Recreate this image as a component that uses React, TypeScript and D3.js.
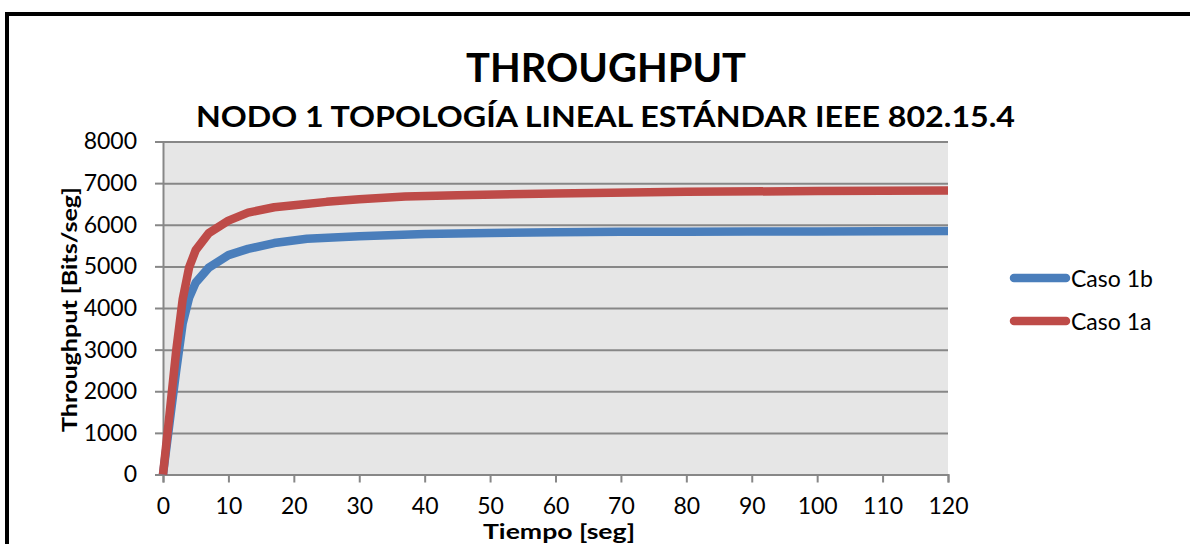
import React, { useRef, useEffect, useCallback } from 'react';
import * as d3 from 'd3';

const width = 1190;
const height = 544;
const margin = { top: 141.5, right: 242, bottom: 69.5, left: 163 };

// tiempo [seg]
const tiempoB = [0, 1, 2, 3, 4, 5, 7, 10, 13, 17, 22, 30, 40, 50, 60, 70, 80, 90, 100, 110, 120];
const caso1b = [0, 1240, 2470, 3620, 4250, 4610, 4970, 5270, 5420, 5560, 5665, 5725, 5780, 5800, 5820, 5830, 5830, 5835, 5840, 5845, 5850];

const tiempoA = [0, 1, 2, 3, 4, 5, 7, 10, 13, 17, 20, 25, 30, 37, 45, 60, 80, 100, 120];
const caso1a = [0, 1450, 2950, 4200, 4980, 5390, 5800, 6100, 6290, 6420, 6470, 6550, 6610, 6680, 6710, 6750, 6790, 6810, 6820];

const xTicks = [0, 10, 20, 30, 40, 50, 60, 70, 80, 90, 100, 110, 120];
const yTicks = [0, 1000, 2000, 3000, 4000, 5000, 6000, 7000, 8000];

const series = [
  { name: 'Caso 1b', color: '#4a7ebb', x: tiempoB, y: caso1b },
  { name: 'Caso 1a', color: '#be4b48', x: tiempoA, y: caso1a },
];

const font = 'Lato, "Open Sans", sans-serif';
const gridColor = '#878787';

const App: React.FC = () => {
  const chartRef = useRef(null);

  const draw = useCallback(() => {
    const x = d3.scaleLinear().domain([0, 120]).range([margin.left, width - margin.right]);
    const y = d3.scaleLinear().domain([0, 8000]).range([height - margin.bottom, margin.top]);

    d3.select(chartRef.current).selectAll('svg').remove();
    const svg = d3
      .select(chartRef.current)
      .append('svg')
      .attr('width', width)
      .attr('height', height)
      .attr('viewBox', `0 0 ${width} ${height}`)
      .style('display', 'block')
      .style('font-family', font);

    svg.append('rect').attr('width', width).attr('height', height).attr('fill', '#fff');

    /** outer frame */
    svg
      .append('rect')
      .attr('x', 7)
      .attr('y', 14)
      .attr('width', 1300)
      .attr('height', 700)
      .attr('fill', 'none')
      .attr('stroke', '#000')
      .attr('stroke-width', 4);

    /** titles */
    svg
      .append('text')
      .attr('x', 606)
      .attr('y', 81.5)
      .attr('text-anchor', 'middle')
      .attr('font-size', 40)
      .attr('font-weight', 'bold')
      .attr('textLength', 280)
      .attr('lengthAdjust', 'spacingAndGlyphs')
      .text('THROUGHPUT');

    svg
      .append('text')
      .attr('x', 605.5)
      .attr('y', 126.5)
      .attr('text-anchor', 'middle')
      .attr('font-size', 29)
      .attr('font-weight', 'bold')
      .attr('textLength', 819)
      .attr('lengthAdjust', 'spacingAndGlyphs')
      .text('NODO 1 TOPOLOGÍA LINEAL ESTÁNDAR IEEE 802.15.4');

    /** plot area */
    svg
      .append('rect')
      .attr('x', x(0))
      .attr('y', y(8000))
      .attr('width', x(120) - x(0))
      .attr('height', y(0) - y(8000))
      .attr('fill', '#e6e6e6');

    const yAxis = (g: any) =>
      g
        .attr('transform', `translate(${margin.left},0)`)
        .call(d3.axisLeft(y).tickValues(yTicks).tickSize(8).tickPadding(18).tickFormat(d3.format('d')))
        .call((g: any) => g.select('.domain').attr('stroke', gridColor).attr('stroke-width', 2))
        .call((g: any) => g.selectAll('.tick line').attr('stroke', gridColor).attr('stroke-width', 2))
        .call((g: any) =>
          g
            .selectAll('.tick')
            .append('line')
            .attr('x2', x(120) - margin.left)
            .attr('stroke', gridColor)
            .attr('stroke-width', 2),
        )
        .call((g: any) =>
          g
            .selectAll('.tick text')
            .attr('font-size', 23)
            .attr('font-family', font)
            .attr('fill', '#000'),
        );

    const xAxis = (g: any) =>
      g
        .attr('transform', `translate(0,${y(0)})`)
        .call(d3.axisBottom(x).tickValues(xTicks).tickSize(8).tickPadding(15).tickFormat(d3.format('d')))
        .call((g: any) => g.select('.domain').attr('stroke', gridColor).attr('stroke-width', 2))
        .call((g: any) => g.selectAll('.tick line').attr('stroke', gridColor).attr('stroke-width', 2))
        .call((g: any) =>
          g
            .selectAll('.tick text')
            .attr('font-size', 23)
            .attr('font-family', font)
            .attr('fill', '#000'),
        );

    svg.append('g').call(yAxis);
    svg.append('g').call(xAxis);

    /** axis titles */
    svg
      .append('text')
      .attr('transform', `translate(77,309.5) rotate(-90)`)
      .attr('text-anchor', 'middle')
      .attr('font-size', 21)
      .attr('font-weight', 'bold')
      .attr('textLength', 245)
      .attr('lengthAdjust', 'spacingAndGlyphs')
      .text('Throughput [Bits/seg]');

    svg
      .append('text')
      .attr('x', 559)
      .attr('y', 539)
      .attr('text-anchor', 'middle')
      .attr('font-size', 20)
      .attr('font-weight', 'bold')
      .attr('textLength', 152)
      .attr('lengthAdjust', 'spacingAndGlyphs')
      .text('Tiempo [seg]');

    /** lines */
    series.forEach((s) => {
      const line = d3
        .line<number>()
        .x((_, i) => x(s.x[i]))
        .y((d) => y(d));
      svg
        .append('path')
        .datum(s.y)
        .attr('d', line)
        .attr('fill', 'none')
        .attr('stroke', s.color)
        .attr('stroke-width', 8.5)
        .attr('stroke-linejoin', 'round');
    });

    /** legend */
    const legend = svg
      .append('g')
      .selectAll('g')
      .data(series)
      .join('g')
      .attr('transform', (d, i) => `translate(1014,${278 + i * 43})`);
    legend
      .append('line')
      .attr('x1', 0)
      .attr('x2', 52)
      .attr('stroke', (d) => d.color)
      .attr('stroke-width', 8.5)
      .attr('stroke-linecap', 'round');
    legend
      .append('text')
      .attr('x', 57)
      .attr('y', 8.5)
      .attr('font-size', 23)
      .text((d) => d.name);
  }, []);

  useEffect(() => {
    draw();
  }, [draw]);

  return <div ref={chartRef} style={{ position: 'absolute', left: 0, top: 0 }} />;
};

export default App;
